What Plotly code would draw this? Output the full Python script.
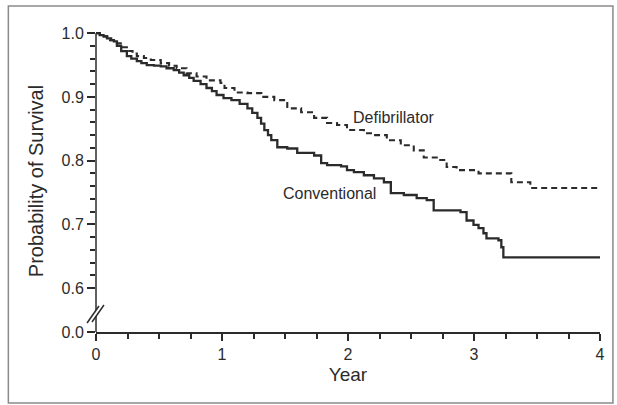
import plotly.graph_objects as go

# ---------------- data ----------------
conv_t = [0.0, 0.03, 0.06, 0.087, 0.12, 0.142, 0.166, 0.20, 0.245, 0.28, 0.324, 0.36, 0.403, 0.46,
          0.514, 0.56, 0.617, 0.66, 0.696, 0.74, 0.775, 0.83, 0.877, 0.92, 0.957, 1.012, 1.075,
          1.14, 1.202, 1.24, 1.281, 1.31, 1.336, 1.365, 1.391, 1.439, 1.518, 1.597, 1.731,
          1.787, 1.834, 1.945, 1.992, 2.047, 2.126, 2.206, 2.285, 2.340, 2.443, 2.545, 2.625,
          2.680, 2.783, 2.893, 2.941, 2.996, 3.036, 3.075, 3.099, 3.194, 3.217, 3.233, 4.0]
conv_s = [1.0, 0.997, 0.995, 0.992, 0.989, 0.987, 0.980, 0.972, 0.964, 0.960, 0.956, 0.953, 0.950, 0.949,
          0.948, 0.945, 0.942, 0.938, 0.934, 0.930, 0.925, 0.920, 0.914, 0.909, 0.903, 0.898, 0.895,
          0.889, 0.882, 0.875, 0.867, 0.858, 0.848, 0.840, 0.832, 0.821, 0.819, 0.812, 0.808,
          0.796, 0.793, 0.791, 0.785, 0.782, 0.777, 0.772, 0.766, 0.749, 0.746, 0.741, 0.738,
          0.722, 0.722, 0.719, 0.706, 0.699, 0.694, 0.686, 0.678, 0.675, 0.664, 0.648, 0.648]

defib_t = [0.0, 0.03, 0.063, 0.09, 0.111, 0.166, 0.206, 0.245, 0.29, 0.324, 0.38, 0.435, 0.514, 0.58,
           0.640, 0.719, 0.798, 0.877, 0.988, 1.020, 1.099, 1.202, 1.312, 1.415, 1.518, 1.628,
           1.731, 1.834, 1.913, 1.992, 2.126, 2.206, 2.308, 2.419, 2.522, 2.601, 2.704, 2.783,
           2.862, 3.036, 3.296, 3.447, 4.0]
defib_s = [1.0, 0.998, 0.995, 0.992, 0.989, 0.984, 0.978, 0.972, 0.968, 0.964, 0.961, 0.958, 0.953, 0.949,
           0.945, 0.937, 0.932, 0.926, 0.922, 0.914, 0.907, 0.906, 0.900, 0.895, 0.882, 0.876,
           0.867, 0.859, 0.856, 0.848, 0.843, 0.840, 0.832, 0.824, 0.816, 0.805, 0.801, 0.790,
           0.785, 0.780, 0.766, 0.757, 0.757]

x_ticks = [0, 1, 2, 3, 4]
y_major = [0.6, 0.7, 0.8, 0.9, 1.0]
y_major_text = ["0.6", "0.7", "0.8", "0.9", "1.0"]
y_zero_text = "0.0"

# axis break: 0.0 is drawn just below 0.6
Y_ZERO = 0.531
Y_TOP = 1.005

INK = "#2b2b2b"
FONT = "Liberation Sans, Arial, sans-serif"

fig = go.Figure()
fig.add_trace(go.Scatter(x=conv_t, y=conv_s, mode="lines", line_shape="hv",
                         line=dict(color=INK, width=2.3), showlegend=False))
fig.add_trace(go.Scatter(x=defib_t, y=defib_s, mode="lines", line_shape="hv",
                         line=dict(color=INK, width=2.1, dash="6px,4px"), showlegend=False))

minor_y = [round(0.6 + 0.02 * i, 3) for i in range(21)]
minor_y = [v for v in minor_y if all(abs(v - m) > 1e-6 for m in y_major)]

ML, MR, MT, MB = 96, 15, 30, 73
W, H = 617, 405
pw, ph = W - ML - MR, H - MT - MB

def px_(px):
    return (px - ML) / pw

def py_(py):
    return (H - MB - py) / ph

def data_to_py(v):
    return MT + (Y_TOP - v) / (Y_TOP - Y_ZERO) * ph

shapes = []
ax_line = dict(color=INK, width=1.5)
# y axis line in two pieces with a break
shapes.append(dict(type="line", xref="paper", yref="paper", x0=0, x1=0,
                   y0=py_(data_to_py(Y_ZERO)), y1=py_(316), line=ax_line))
shapes.append(dict(type="line", xref="paper", yref="paper", x0=0, x1=0,
                   y0=py_(310), y1=py_(data_to_py(1.0)), line=ax_line))
# break slashes
shapes.append(dict(type="line", xref="paper", yref="paper", x0=px_(87), y0=py_(323), x1=px_(99), y1=py_(306),
                   line=ax_line))
shapes.append(dict(type="line", xref="paper", yref="paper", x0=px_(92), y0=py_(322), x1=px_(104), y1=py_(305),
                   line=ax_line))
# outer frame
shapes.append(dict(type="rect", xref="paper", yref="paper",
                   x0=px_(8), x1=px_(615), y0=py_(403), y1=py_(6),
                   line=dict(color="#8a8a8a", width=1.5), fillcolor="rgba(0,0,0,0)", layer="below"))

fig.update_layout(
    width=W, height=H, autosize=False,
    margin=dict(l=ML, r=MR, t=MT, b=MB),
    paper_bgcolor="white", plot_bgcolor="white",
    font=dict(family=FONT, color=INK, size=16),
    shapes=shapes,
    annotations=[
        dict(x=2.024, y=0.868, text="Defibrillator", showarrow=False, xanchor="left", yanchor="middle",
             font=dict(size=16, color=INK, family=FONT)),
        dict(x=1.470, y=0.749, text="Conventional", showarrow=False, xanchor="left", yanchor="middle",
             font=dict(size=16, color=INK, family=FONT)),
    ],
)
fig.update_xaxes(range=[0, 4], tickmode="array", tickvals=x_ticks, ticktext=[str(v) for v in x_ticks],
                 showgrid=False, zeroline=False, showline=True, linecolor=INK, linewidth=1.5,
                 ticks="outside", ticklen=7, tickwidth=1.5, tickcolor=INK,
                 tickfont=dict(size=16),
                 minor=dict(tickmode="linear", tick0=0, dtick=0.25, ticks="outside", ticklen=5,
                            tickwidth=1.5, tickcolor=INK, showgrid=False),
                 title=dict(text="Year", font=dict(size=19), standoff=6))
fig.update_yaxes(range=[Y_ZERO, Y_TOP], tickmode="array",
                 tickvals=[Y_ZERO] + y_major, ticktext=[y_zero_text] + y_major_text,
                 showgrid=False, zeroline=False, showline=False,
                 ticks="outside", ticklen=8, tickwidth=1.5, tickcolor=INK,
                 tickfont=dict(size=16),
                 minor=dict(tickmode="array", tickvals=minor_y, ticks="outside", ticklen=5,
                            tickwidth=1.5, tickcolor=INK, showgrid=False),
                 title=dict(text="Probability of Survival", font=dict(size=20), standoff=12))

fig.write_html("out.html")
